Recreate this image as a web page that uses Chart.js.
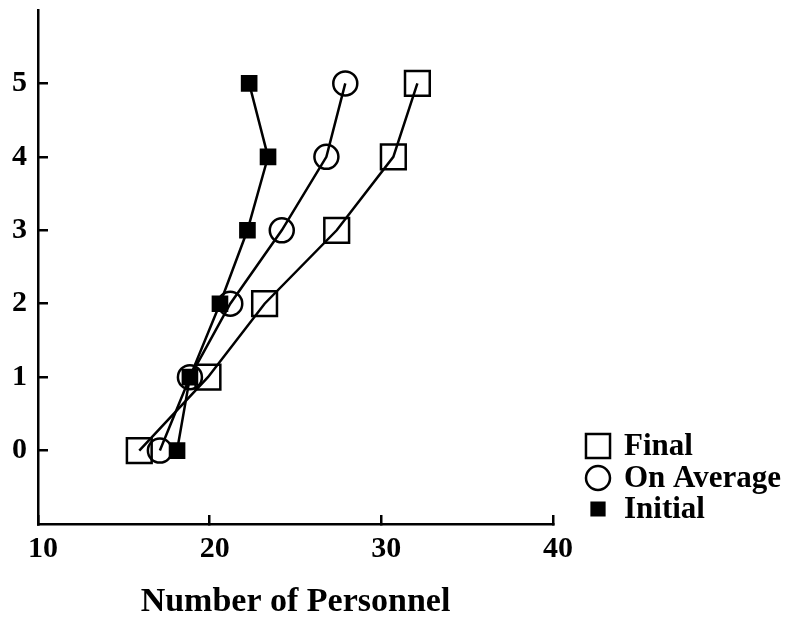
<!DOCTYPE html>
<html>
<head>
<meta charset="utf-8">
<script src="https://cdn.jsdelivr.net/npm/chart.js@4/dist/chart.umd.min.js"></script>
<style>html,body{margin:0;padding:0;background:#fff}</style>
</head>
<body>
<canvas id="chart" width="791" height="620"></canvas>
<script>
// Level on the vertical axis, personnel count on the horizontal axis
const levels = [0, 1, 2, 3, 4, 5];
const finalPersonnel = [15.9, 19.9, 23.2, 27.4, 30.7, 32.1];
const averagePersonnel = [17.1, 18.85, 21.2, 24.2, 26.8, 27.9];
const initialPersonnel = [18.1, 18.85, 20.6, 22.2, 23.4, 22.3];
const seriesNames = ['Final', 'On Average', 'Initial'];
const xTickValues = [10, 20, 30, 40];
const yTickValues = [0, 1, 2, 3, 4, 5];

const FONT = '"Liberation Serif", "Times New Roman", Times, serif';
const toPoints = vals => vals.map((v, i) => ({ x: v, y: levels[i] }));

function series(label, values, style, radius, fill) {
  return {
    label,
    data: toPoints(values),
    showLine: true,
    borderColor: '#000',
    borderWidth: 2.5,
    pointStyle: style,
    pointRadius: radius,
    pointHoverRadius: radius,
    pointBorderWidth: 2.5,
    pointBorderColor: '#000',
    pointBackgroundColor: fill,
    clip: false
  };
}

// Key drawn in the lower right, beside the plot area
const seriesKey = {
  id: 'seriesKey',
  afterDraw(chart) {
    const { ctx, chartArea } = chart;
    const markerX = chartArea.right + 45;
    const textX = chartArea.right + 71;
    const rowOffsets = [-78, -46, -15];
    const keyRadius = [17, 12, 9];
    ctx.save();
    ctx.font = 'bold 31px ' + FONT;
    ctx.textBaseline = 'middle';
    chart.data.datasets.forEach((ds, i) => {
      const y = chartArea.bottom + rowOffsets[i];
      ctx.fillStyle = ds.pointBackgroundColor;
      ctx.strokeStyle = ds.pointBorderColor;
      ctx.lineWidth = 2.5;
      Chart.helpers.drawPoint(ctx, {
        pointStyle: ds.pointStyle, radius: keyRadius[i], borderWidth: 2.5, rotation: 0
      }, markerX, y);
      ctx.fillStyle = '#000';
      ctx.fillText(ds.label, textX, y + 1);
    });
    ctx.restore();
  }
};

const axisGrid = { drawOnChartArea: false, drawTicks: true, color: '#000', lineWidth: 2.5 };
const axisBorder = { display: true, color: '#000', width: 2.5 };

new Chart(document.getElementById('chart'), {
  type: 'scatter',
  data: {
    datasets: [
      series(seriesNames[0], finalPersonnel, 'rect', 17.5, 'rgba(0,0,0,0)'),
      series(seriesNames[1], averagePersonnel, 'circle', 12, 'rgba(0,0,0,0)'),
      series(seriesNames[2], initialPersonnel, 'rect', 10, '#000')
    ]
  },
  options: {
    responsive: false,
    animation: false,
    layout: { autoPadding: false, padding: { top: 10, right: 238, left: 0, bottom: 0 } },
    plugins: { legend: { display: false }, tooltip: { enabled: false } },
    scales: {
      x: {
        type: 'linear',
        position: 'bottom',
        min: 10,
        max: 40,
        afterBuildTicks: s => { s.ticks = xTickValues.map(v => ({ value: v })); },
        afterFit: s => { s.height = 96; s.paddingLeft = 0; s.paddingRight = 0; },
        grid: { ...axisGrid, tickLength: -9 },
        border: axisBorder,
        ticks: {
          color: '#000', font: { family: FONT, size: 30, weight: 'bold' },
          padding: 16, maxRotation: 0, labelOffset: 5
        },
        title: {
          display: true,
          text: 'Number of Personnel',
          color: '#000',
          font: { family: FONT, size: 34, weight: 'bold' },
          padding: { top: 0, bottom: -3 }
        }
      },
      y: {
        type: 'linear',
        min: -1,
        max: 6,
        afterBuildTicks: s => { s.ticks = yTickValues.map(v => ({ value: v })); },
        afterFit: s => { s.width = 38; s.paddingTop = 0; s.paddingBottom = 0; },
        grid: { ...axisGrid, tickLength: -10 },
        border: axisBorder,
        ticks: { color: '#000', font: { family: FONT, size: 30, weight: 'bold' }, padding: 21 }
      }
    }
  },
  plugins: [seriesKey]
});
</script>
</body>
</html>
